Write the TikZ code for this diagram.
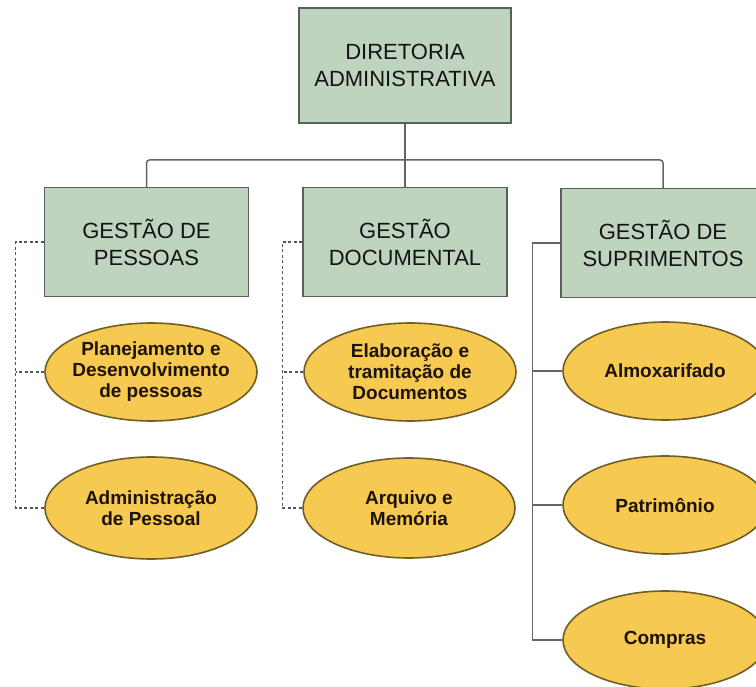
\documentclass[tikz,border=0pt]{standalone}
\usepackage{fontspec}
\setmainfont{Liberation Sans}
\usetikzlibrary{shapes.geometric}
\definecolor{boxgreen}{RGB}{190,212,191}
\definecolor{boxedge}{RGB}{88,96,89}
\definecolor{ovalfill}{RGB}{246,201,80}
\definecolor{ovaledge}{RGB}{112,94,40}
\definecolor{linegray}{RGB}{100,100,100}
\tikzset{
    unit/.style={draw=boxedge,fill=boxgreen,line width=1.3pt,
        minimum width=204pt,minimum height=109pt,align=center,
        font=\fontsize{22}{27}\selectfont,text=black!92},
    task/.style={ellipse,draw=ovaledge,fill=ovalfill,line width=1.6pt,
        inner xsep=-6pt,inner ysep=0pt,minimum width=212pt,minimum height=98pt,
        align=center,font=\bfseries\fontsize{19}{21}\selectfont,text=black!85!brown},
    wire/.style={draw=linegray,line width=1.5pt},
    dashwire/.style={draw=linegray!85!black,line width=1.2pt,dash pattern=on 3pt off 2.5pt}
}

\begin{document}
\begin{tikzpicture}[x=1pt,y=-1pt]
    \clip (0,0) rectangle (756,687);
    \node[unit,minimum width=212pt,minimum height=115pt] (dir) at (405,65.5)
        {DIRETORIA\\ADMINISTRATIVA};
    \node[unit] (gp) at (146.5,242) {GESTÃO DE\\PESSOAS};
    \node[unit] (gd) at (405,242) {GESTÃO\\DOCUMENTAL};
    \node[unit] (gs) at (663,243) {GESTÃO DE\\SUPRIMENTOS};
    \node[task] (plan) at (151,372) {Planejamento e\\Desenvolvimento\\de pessoas};
    \node[task,minimum height=102pt] (adm) at (151,508) {Administração\\de Pessoal};
    \node[task] (elab) at (410,372) {Elaboração e\\tramitação de\\Documentos};
    \node[task,minimum height=100pt] (arq) at (409,508) {Arquivo e\\Memória};
    \node[task,minimum width=204pt] (almox) at (665,371) {Almoxarifado};
    \node[task,minimum width=204pt] (patr) at (665,505) {Patrimônio};
    \node[task,minimum width=204pt] (comp) at (665,640) {Compras};
    \coordinate (bus) at (405,160);
    \draw[wire] (dir.south) -- (gd.north);
    \draw[wire,rounded corners=3pt] (gp.north) |- (bus) -| (gs.north);
    \draw[dashwire] (gp.west) -- ++(-28,0) coordinate (gpline) |- (adm.west);
    \draw[dashwire] (plan.west) -- (plan.west -| gpline);
    \draw[dashwire] (gd.west) -- ++(-20,0) coordinate (gdline) |- (arq.west);
    \draw[dashwire] (elab.west) -- (elab.west -| gdline);
    \draw[wire] (gs.west) -- ++(-28,0) coordinate (gsline) |- (comp.west);
    \draw[wire] (almox.west) -- (almox.west -| gsline);
    \draw[wire] (patr.west) -- (patr.west -| gsline);
\end{tikzpicture}
\end{document}
